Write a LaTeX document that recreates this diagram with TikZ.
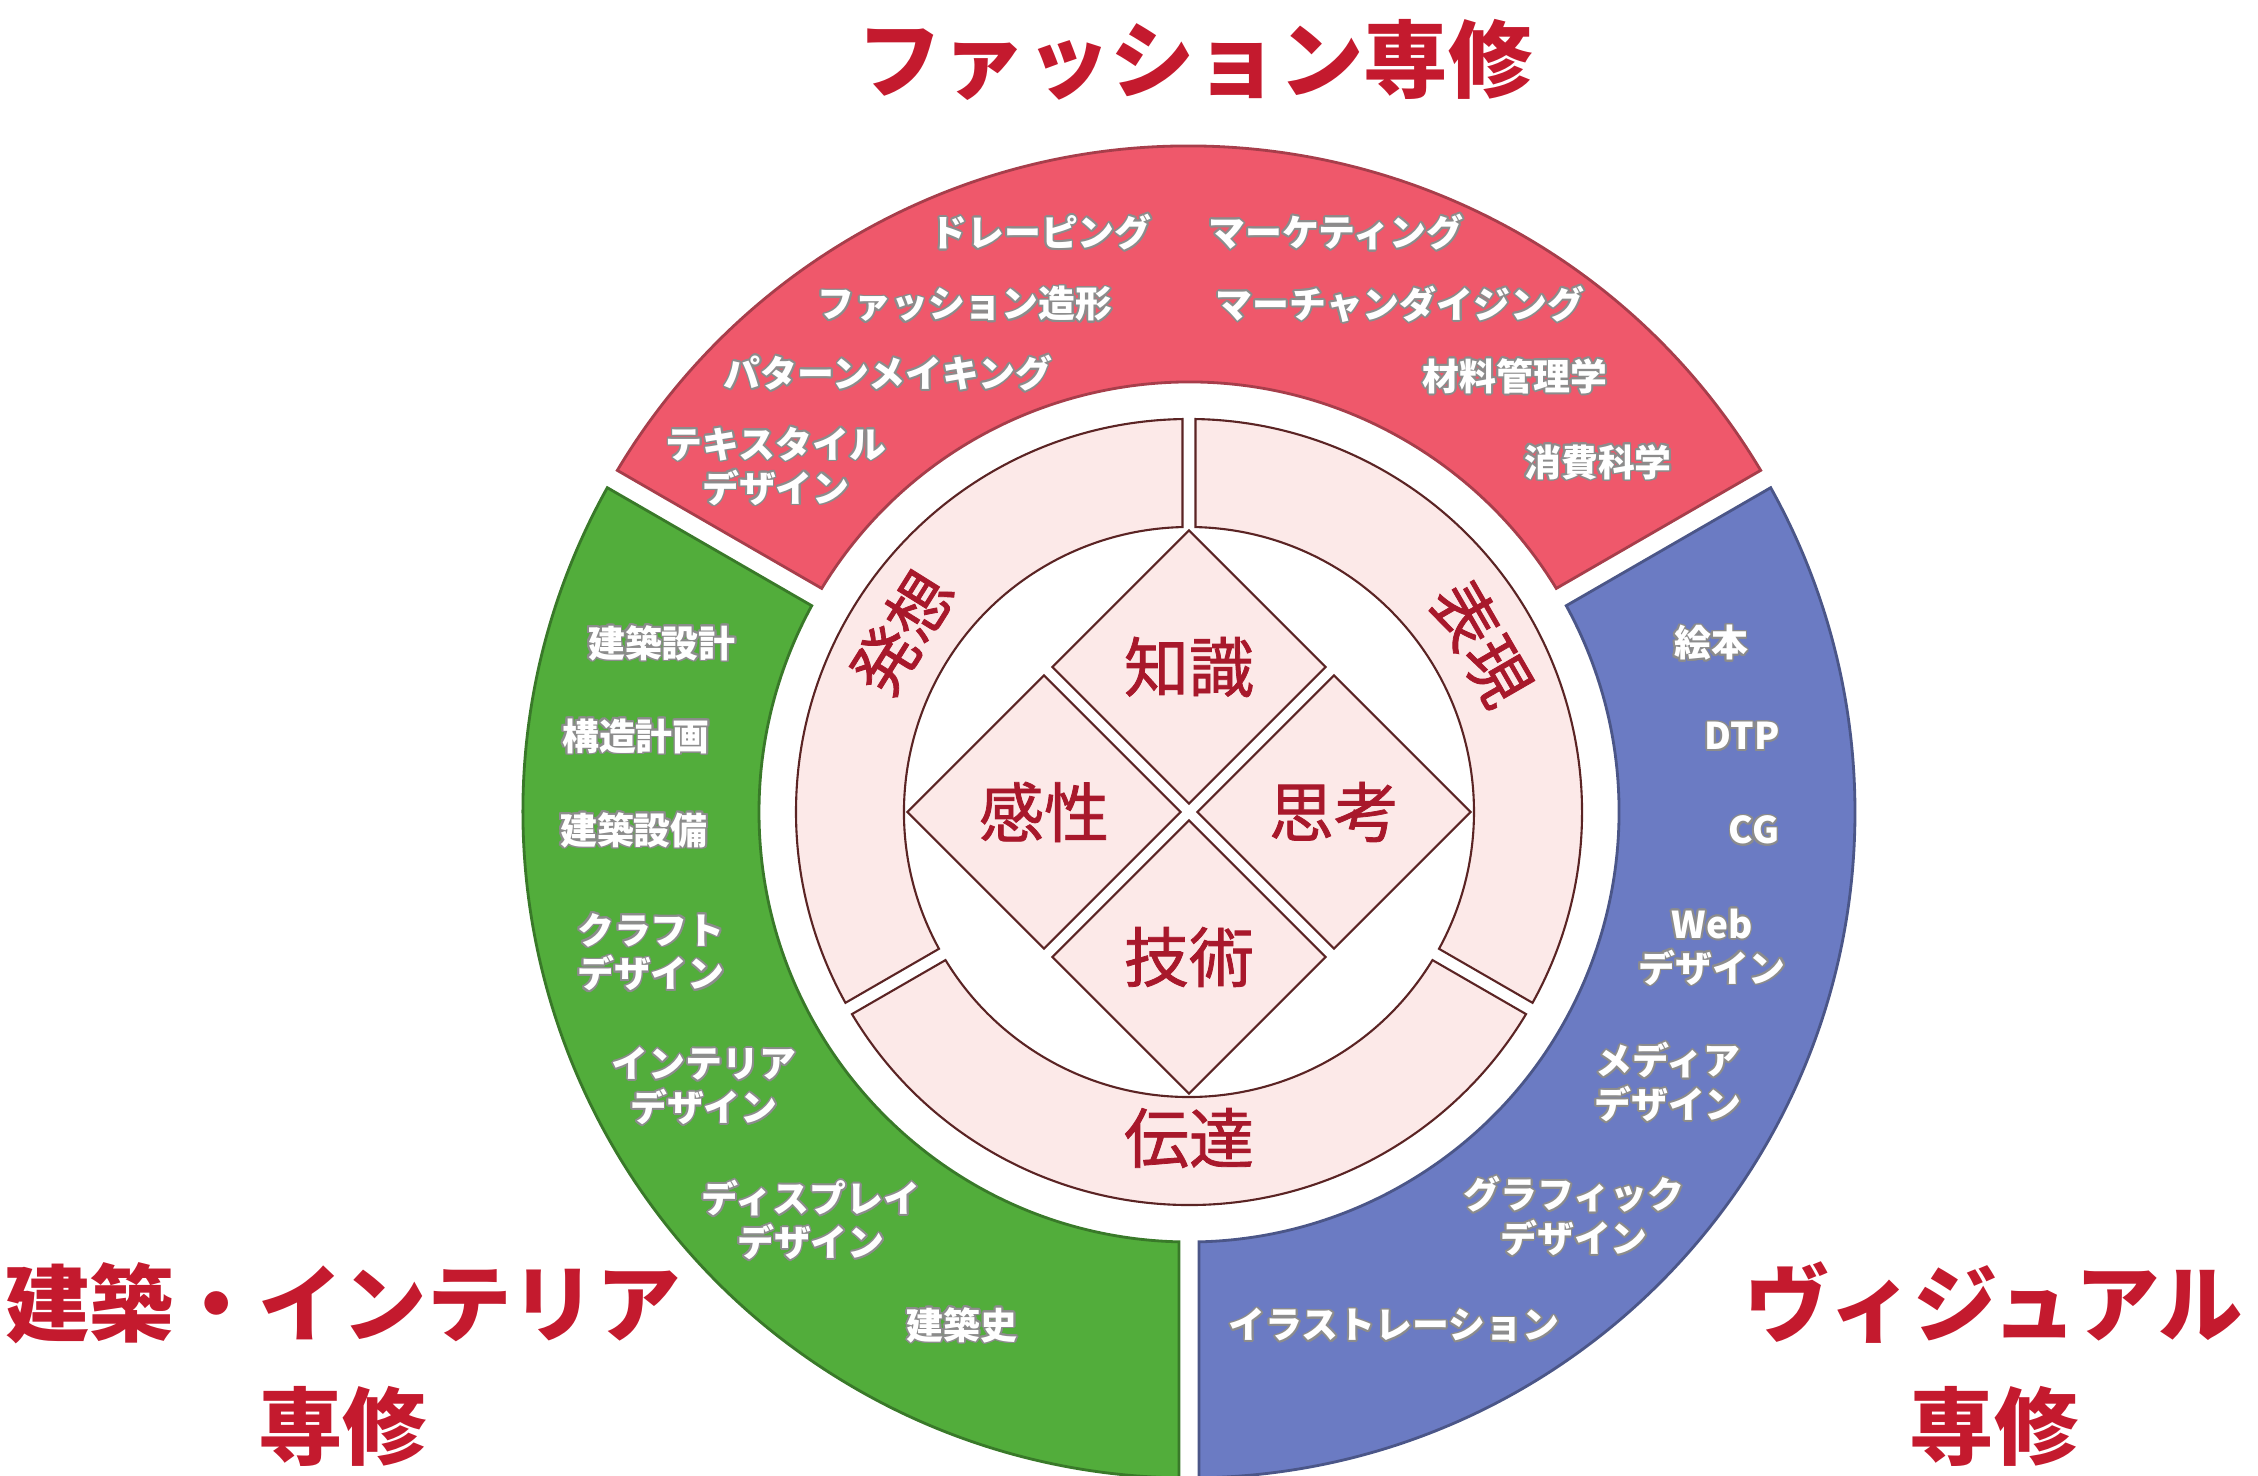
\documentclass[tikz,border=0pt]{standalone}
\usepackage{fontspec}
\usepackage[copies]{contour}
\usetikzlibrary{shapes.geometric}
\setmainfont{Noto Sans CJK JP}
\newfontfamily\jpmid[FakeBold=1.2]{Noto Sans CJK JP}
\definecolor{fsh}{HTML}{EF586B}
\definecolor{ark}{HTML}{52AD3B}
\definecolor{vis}{HTML}{6B7BC3}
\definecolor{pnk}{HTML}{FCE9E8}
\definecolor{rim}{HTML}{5B2424}
\definecolor{ttl}{HTML}{C41A2E}
\definecolor{lbl}{HTML}{A8182B}
\contourlength{0.5pt}
\newcommand\glow[1]{\contour{black!45}{#1}}
\tikzset{
    band/.style={white,font=\fontsize{10.5}{12.5}\selectfont\bfseries,align=center,inner sep=0pt},
    ttlbox/.style={ttl,font=\fontsize{24}{35}\selectfont\bfseries,align=center,inner sep=0pt},
    ringtx/.style={lbl,font=\fontsize{18.5}{20}\selectfont\jpmid,inner sep=0pt},
    gem/.style={diamond,draw=rim,fill=pnk,line width=0.6pt,minimum size=2.74cm,
        inner sep=0pt,text=lbl,font=\fontsize{18.5}{20}\selectfont\jpmid}
}
\begin{document}
\begin{tikzpicture}
    \useasboundingbox (-11.89,-6.64) rectangle (10.69,8.12);
    % three majors
    \foreach \a/\c in {30/fsh,150/ark,270/vis} {
        \pgfmathsetmacro\b{\a+120}
        \filldraw[fill=\c,draw=\c!70!black,line width=0.8pt]
            ({\a+0.86}:6.66) arc[start angle=\a+0.86,end angle=\b-0.86,radius=6.66]
            -- ({\b-1.33}:4.30) arc[start angle=\b-1.33,end angle=\a+1.33,radius=4.30]
            -- cycle;
    }
    % middle ring
    \foreach \a in {90,210,330} {
        \pgfmathsetmacro\b{\a+120}
        \filldraw[fill=pnk,draw=rim,line width=0.6pt]
            ({\a+0.95}:3.93) arc[start angle=\a+0.95,end angle=\b-0.95,radius=3.93]
            -- ({\b-1.31}:2.85) arc[start angle=\b-1.31,end angle=\a+1.31,radius=2.85]
            -- cycle;
    }
    \node[ringtx,rotate=58] (hasso) at (148:3.38) {発想};
    \node[ringtx,rotate=-60] (hyogen) at (30:3.38) {表現};
    \node[ringtx] (dentatsu) at (0,-3.26) {伝達};
    % core
    \node[gem] (chishiki) at (0,1.45) {知識};
    \node[gem] (kansei) at (-1.45,0) {感性};
    \node[gem] (shiko) at (1.45,0) {思考};
    \node[gem] (gijutsu) at (0,-1.45) {技術};
    % fashion
    \node[band] (drape) at (-1.48,5.79) {\glow{ドレーピング}};
    \node[band] (market) at (1.47,5.79) {\glow{マーケティング}};
    \node[band] (zokei) at (-2.24,5.07) {\glow{ファッション造形}};
    \node[band] (merch) at (2.11,5.07) {\glow{マーチャンダイジング}};
    \node[band] (pattern) at (-3.01,4.38) {\glow{パターンメイキング}};
    \node[band] (zairyo) at (3.26,4.35) {\glow{材料管理学}};
    \node[band] (textile) at (-4.13,3.45) {\glow{テキスタイル}\\\glow{デザイン}};
    \node[band] (shohi) at (4.09,3.49) {\glow{消費科学}};
    % architecture
    \node[band] (sekkei) at (-5.27,1.68) {\glow{建築設計}};
    \node[band] (kozo) at (-5.53,0.75) {\glow{構造計画}};
    \node[band] (setsubi) at (-5.55,-0.19) {\glow{建築設備}};
    \node[band] (craft) at (-5.38,-1.41) {\glow{クラフト}\\\glow{デザイン}};
    \node[band] (interior) at (-4.85,-2.75) {\glow{インテリア}\\\glow{デザイン}};
    \node[band] (display) at (-3.78,-4.09) {\glow{ディスプレイ}\\\glow{デザイン}};
    \node[band] (kenshi) at (-2.27,-5.14) {\glow{建築史}};
    % visual
    \node[band] (ehon) at (5.22,1.68) {\glow{絵本}};
    \node[band] (dtp) at (5.53,0.75) {\glow{DTP}};
    \node[band] (cg) at (5.65,-0.19) {\glow{CG}};
    \node[band] (web) at (5.23,-1.36) {\glow{Web}\\\glow{デザイン}};
    \node[band] (media) at (4.79,-2.71) {\glow{メディア}\\\glow{デザイン}};
    \node[band] (graphic) at (3.85,-4.05) {\glow{グラフィック}\\\glow{デザイン}};
    \node[band] (illust) at (2.05,-5.14) {\glow{イラストレーション}};
    % titles
    \node[ttlbox] (fashion) at (0.06,7.52) {ファッション専修};
    \node[ttlbox] (kenchiku) at (-8.46,-5.525) {建築・インテリア\\専修};
    \node[ttlbox] (visual) at (8.05,-5.525) {ヴィジュアル\\専修};
\end{tikzpicture}
\end{document}
